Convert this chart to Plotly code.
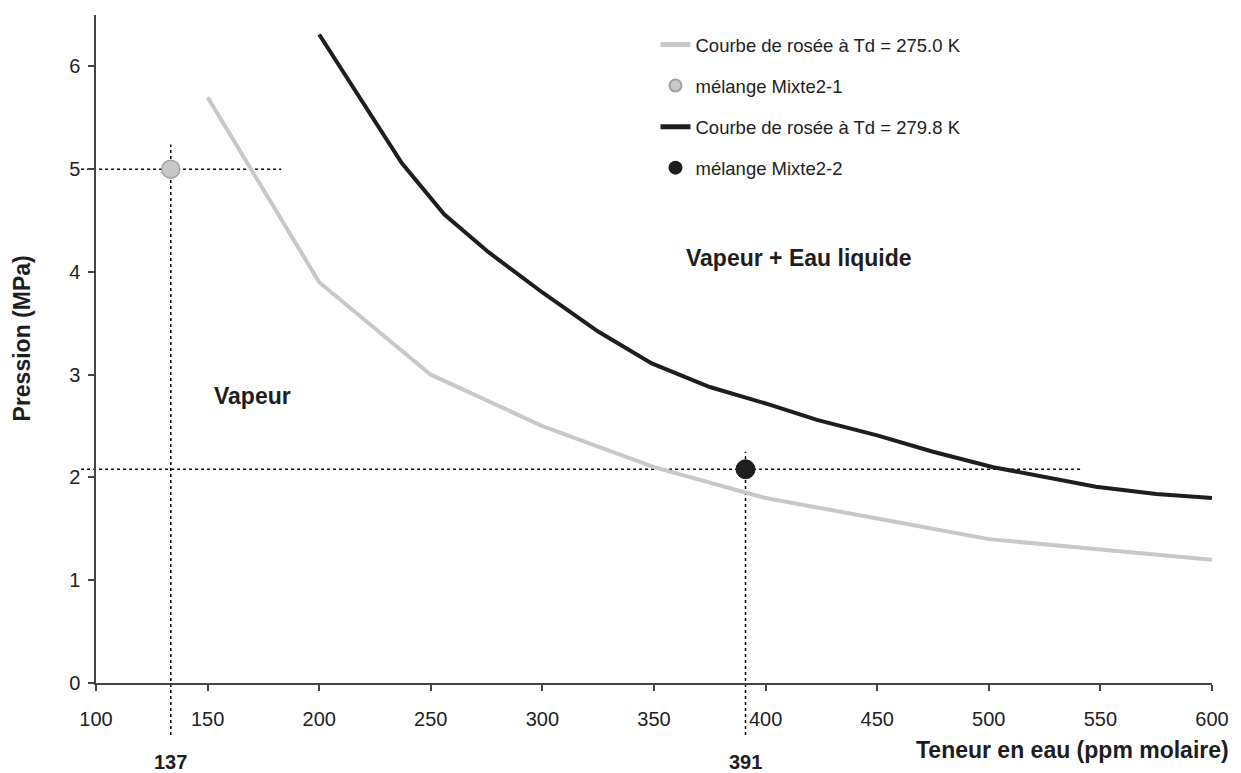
import plotly.graph_objects as go

# ---- data ----
x_275 = [150, 200, 250, 300, 350, 400, 450, 500, 550, 600]
p_275 = [5.7, 3.9, 3.0, 2.5, 2.1, 1.8, 1.6, 1.4, 1.3, 1.2]

x_2798 = [200, 237, 256, 276, 300, 325, 349, 375, 400, 423, 450, 475, 502, 548, 575, 600]
p_2798 = [6.31, 5.06, 4.56, 4.19, 3.80, 3.42, 3.11, 2.88, 2.72, 2.56, 2.41, 2.25, 2.10, 1.91, 1.84, 1.80]

mix_names = ["mélange Mixte2-1", "mélange Mixte2-2"]
mix_x = [133.5, 391]
mix_p = [5.0, 2.08]
mix_labels = ["137", "391"]
guide_top = [5.24, 2.25]        # top of vertical guide (MPa)
guide_right = [183, 542]        # right end of horizontal guide (ppm)

X_RANGE = [100, 600]
Y_RANGE = [0, 6.5]

FONT = "Liberation Sans, Arial, sans-serif"
DARK = "#1e1e1e"
GRAY = "#c8c8c8"

PLOT_W = 1241 - 96 - 22
PLOT_H = 773 - 15 - 90


def xp(v):
    return (v - X_RANGE[0]) / (X_RANGE[1] - X_RANGE[0])


def yp(v):
    return (v - Y_RANGE[0]) / (Y_RANGE[1] - Y_RANGE[0])


fig = go.Figure()

fig.add_trace(go.Scatter(x=x_275, y=p_275, mode="lines", name="Courbe de rosée à Td = 275.0 K",
                         line=dict(color=GRAY, width=4), legendgroup="a"))
fig.add_trace(go.Scatter(x=[mix_x[0]], y=[mix_p[0]], mode="markers", name=mix_names[0],
                         marker=dict(color="#c8c8c8", size=18, line=dict(color="#a0a0a0", width=1.5)),
                         legendgroup="b"))
fig.add_trace(go.Scatter(x=x_2798, y=p_2798, mode="lines", name="Courbe de rosée à Td = 279.8 K",
                         line=dict(color=DARK, width=4), legendgroup="c"))
fig.add_trace(go.Scatter(x=[mix_x[1]], y=[mix_p[1]], mode="markers", name=mix_names[1],
                         marker=dict(color=DARK, size=19, line=dict(color=DARK, width=1)),
                         legendgroup="d"))

shapes = []
left_ext = -15 / PLOT_W
bottom_ext = -52 / PLOT_H
for i in range(2):
    # horizontal guide
    shapes.append(dict(type="line", xref="paper", yref="y",
                       x0=left_ext, x1=xp(guide_right[i]), y0=mix_p[i], y1=mix_p[i],
                       line=dict(color="black", width=1.5, dash="dot"), layer="below"))
    # vertical guide
    shapes.append(dict(type="line", xref="x", yref="paper",
                       x0=mix_x[i], x1=mix_x[i], y0=bottom_ext, y1=yp(guide_top[i]),
                       line=dict(color="black", width=1.5, dash="dot"), layer="below"))

annotations = []
for i in range(2):
    annotations.append(dict(x=mix_x[i], xref="x", y=(683 - 762) / PLOT_H, yref="paper",
                            text=mix_labels[i], showarrow=False,
                            font=dict(family=FONT, size=20, color=DARK, weight="bold"),
                            xanchor="center", yanchor="middle"))

annotations.append(dict(x=170, y=2.79, xref="x", yref="y", text="Vapeur", showarrow=False,
                        font=dict(family=FONT, size=23, color=DARK, weight="bold")))
annotations.append(dict(x=415, y=4.14, xref="x", yref="y", text="Vapeur + Eau liquide", showarrow=False,
                        font=dict(family=FONT, size=23, color=DARK, weight="bold")))
annotations.append(dict(x=(1238 - 96) / PLOT_W, y=(683 - 750) / PLOT_H, xref="paper", yref="paper",
                        text="Teneur en eau (ppm molaire)", showarrow=False, xanchor="right",
                        yanchor="middle",
                        font=dict(family=FONT, size=23, color=DARK, weight="bold")))
annotations.append(dict(x=(22 - 96) / PLOT_W, y=(683 - 338) / PLOT_H, xref="paper", yref="paper",
                        text="Pression (MPa)", showarrow=False, textangle=-90,
                        xanchor="center", yanchor="middle",
                        font=dict(family=FONT, size=23, color=DARK, weight="bold")))

fig.update_layout(
    width=1241, height=773,
    margin=dict(l=96, r=22, t=15, b=90),
    paper_bgcolor="white", plot_bgcolor="white",
    font=dict(family=FONT, size=19, color="#222222"),
    shapes=shapes, annotations=annotations,
    showlegend=True,
    legend=dict(x=(659 - 96) / PLOT_W, y=(683 - 26) / PLOT_H, xanchor="left", yanchor="top",
                bgcolor="rgba(255,255,255,0)", borderwidth=0,
                font=dict(family=FONT, size=18.5, color="#222222"),
                tracegroupgap=14, itemsizing="constant"),
    xaxis=dict(range=X_RANGE, tickvals=[100, 150, 200, 250, 300, 350, 400, 450, 500, 550, 600],
               showgrid=False, zeroline=False, showline=True, linecolor="#444444", linewidth=1.5,
               ticks="outside", ticklen=6, tickcolor="#444444", tickwidth=1.5,
               ticklabelstandoff=11,
               tickfont=dict(family=FONT, size=20, color="#222222")),
    yaxis=dict(range=Y_RANGE, tickvals=[0, 1, 2, 3, 4, 5, 6],
               showgrid=False, zeroline=False, showline=True, linecolor="#444444", linewidth=1.5,
               ticks="outside", ticklen=6, tickcolor="#444444", tickwidth=1.5,
               ticklabelstandoff=4,
               tickfont=dict(family=FONT, size=20, color="#222222")),
)

fig.write_html("out.html", config={"displayModeBar": False},
               post_script="document.body.style.margin='0';document.body.style.overflow='hidden';")
